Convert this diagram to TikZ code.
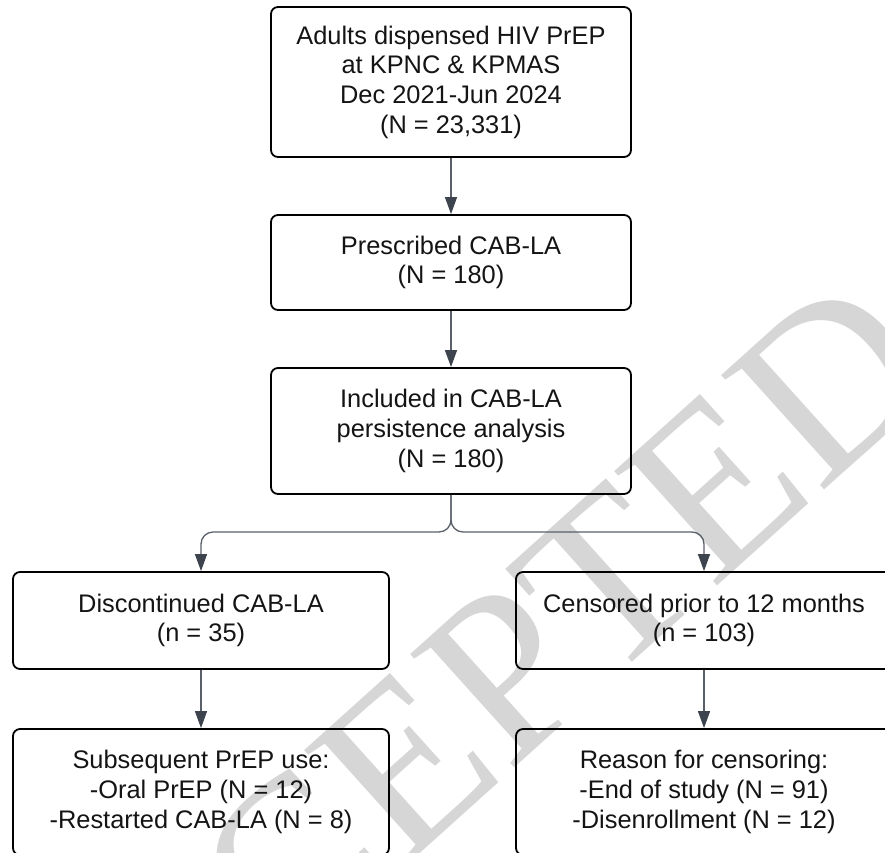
\documentclass[tikz,border=0pt]{standalone}
\usepackage{fontspec}
\setmainfont{Liberation Sans}
\newfontfamily\wmfont{Liberation Serif}
\usetikzlibrary{arrows.meta,calc}
\definecolor{wm}{HTML}{D6D6D6}
\definecolor{conn}{HTML}{5A6069}
\definecolor{tip}{HTML}{3D444E}
\begin{document}
\begin{tikzpicture}[x=1pt,y=-1pt,
  box/.style={draw=black, line width=1.8pt, rounded corners=7pt, align=center,
    inner sep=0pt, text=black!92, font=\fontsize{25.4}{29.7}\selectfont},
  arr/.style={draw=conn, line width=1.3pt, -{Triangle[length=17pt,width=12pt,color=tip]}}]
\useasboundingbox (0,0) rectangle (885,852);
\node[rotate=42, text=wm, inner sep=0pt, font=\wmfont\fontsize{235}{235}\selectfont] (wm) at (443,730) {ACCEPTED};
\node[box, minimum width=360pt, minimum height=150pt] (b1) at (451,82)
  {Adults dispensed HIV PrEP\\at KPNC \& KPMAS\\Dec 2021-Jun 2024\\(N = 23,331)};
\node[box, minimum width=360pt, minimum height=95pt] (b2) at (451,262.5)
  {Prescribed CAB-LA\\(N = 180)};
\node[box, minimum width=360pt, minimum height=126pt] (b3) at (451,431)
  {Included in CAB-LA\\persistence analysis\\(N = 180)};
\node[box, minimum width=376pt, minimum height=97pt] (b4) at (201,620.5)
  {Discontinued CAB-LA\\(n = 35)};
\node[box, minimum width=376pt, minimum height=97pt] (b5) at (704,620.5)
  {Censored prior to 12 months\\(n = 103)};
\node[box, minimum width=376pt, minimum height=126pt] (b6) at (201,792)
  {Subsequent PrEP use:\\-Oral PrEP (N = 12)\\-Restarted CAB-LA (N = 8)};
\node[box, minimum width=376pt, minimum height=126pt] (b7) at (704,792)
  {Reason for censoring:\\-End of study (N = 91)\\-Disenrollment (N = 12)};
\draw[arr] (b1) -- (b2);
\draw[arr] (b2) -- (b3);
\coordinate (split) at (451,532);
\draw[arr, rounded corners=12pt] (b3.south) -- (split) -| (b4.north);
\draw[arr, rounded corners=12pt] (b3.south) -- (split) -| (b5.north);
\draw[arr] (b4) -- (b6);
\draw[arr] (b5) -- (b7);
\end{tikzpicture}
\end{document}
